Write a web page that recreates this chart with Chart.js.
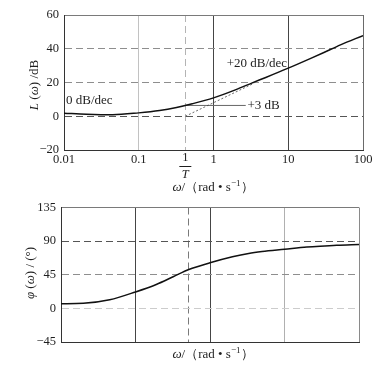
<!DOCTYPE html>
<html>
<head>
<meta charset="utf-8">
<script src="https://cdn.jsdelivr.net/npm/chart.js@4.4.1/dist/chart.umd.min.js"></script>
<style>
  html, body { margin: 0; padding: 0; background: #fff; }
  #wrap { position: relative; width: 386px; height: 369px; }
  #magBox { position: absolute; left: 0; top: 0; width: 386px; height: 195px; }
  #phaseBox { position: absolute; left: 0; top: 195px; width: 386px; height: 174px; }
</style>
</head>
<body>
<div id="wrap">
  <div id="magBox"><canvas id="magChart"></canvas></div>
  <div id="phaseBox"><canvas id="phaseChart"></canvas></div>
</div>
<script>
// ===== DATA =====
const freqs = [0.01, 0.02, 0.045, 0.1, 0.19, 0.32, 0.52, 1, 2, 3.3, 5, 10, 20, 30, 50, 100];
const magDb = [1.8, 1.2, 0.9, 2.0, 3.4, 5.2, 7.4, 10.9, 15.8, 19.8, 23, 28.5, 34.3, 37.8, 42.3, 47.8];
const phaseDeg = [6.3, 6.8, 11.5, 22, 32, 42.3, 52, 61, 69, 73.5, 76, 79, 82, 83.3, 84.6, 85.6];

const asymptoteFreq = [0.42, 3.5];
const asymptoteDb = [0, 19.6];
const leaderFreq = [0.42, 2.7];
const leaderDb = [6.4, 6.4];

const magXTicks = [0.01, 0.1, 0.42, 1, 10, 100];
const magXLabels = ["0.01", "0.1", "", "1", "10", "100"];
const magYTicks = [-20, 0, 20, 40, 60];
const phaseXTicks = [0.01, 0.1, 0.52, 1, 10, 100];
const phaseYTicks = [-45, 0, 45, 90, 135];

const SERIF = "'Liberation Serif', 'Times New Roman', serif";
const INK = "#1e1e1e";

// ===== HELPERS =====
function toPoints(xs, ys) {
  return xs.map((x, i) => ({ x: x, y: ys[i] }));
}

function fmtTick(v) {
  return v < 0 ? "\u2212" + Math.abs(v) : String(v);
}

// draw a string made of runs (italic / superscript parts)
function drawRuns(ctx, runs, x, y, size, align, angle) {
  ctx.save();
  ctx.translate(x, y);
  if (angle) ctx.rotate(angle);
  ctx.textBaseline = "middle";
  ctx.textAlign = "left";
  ctx.fillStyle = INK;
  const fontOf = (r) => (r.italic ? "italic " : "") + (r.sup ? size * 0.7 : size) + "px " + SERIF;
  let total = 0;
  runs.forEach((r) => {
    ctx.font = fontOf(r);
    r.w = ctx.measureText(r.t).width;
    total += r.w;
  });
  let cx = align === "left" ? 0 : -total / 2;
  runs.forEach((r) => {
    ctx.font = fontOf(r);
    ctx.fillText(r.t, cx, r.sup ? -size * 0.35 : 0);
    cx += r.w;
  });
  ctx.restore();
}

const xTitleRuns = () => [
  { t: "\u03c9", italic: true },
  { t: "/\uff08rad \u2022 s" },
  { t: "\u22121", sup: true },
  { t: "\uff09" },
];

function gridStyle(map, fallback) {
  return {
    color: (c) => (c.tick && map[c.tick.value] ? map[c.tick.value][0] : fallback),
    dash: (c) => (c.tick && map[c.tick.value] && map[c.tick.value][1] ? [7, 4] : []),
  };
}

// ===== MAGNITUDE CHART =====
const magXGrid = gridStyle({ 0.01: ["#333"], 0.1: ["#c2c2c2"], 0.42: ["#b4b4b4", 1], 1: ["#454545"], 10: ["#454545"], 100: ["#6a6a6a"] }, "#999");
const magYGrid = gridStyle({ "-20": ["#333"], 0: ["#555", 1], 20: ["#8e8e8e", 1], 40: ["#8e8e8e", 1], 60: ["#7a7a7a"] }, "#999");

const magLabels = {
  id: "magLabels",
  afterDatasetsDraw(chart) {
    const { ctx, chartArea, scales } = chart;
    const xs = scales.x, ys = scales.y;
    drawRuns(ctx, [{ t: "0 dB/dec" }], chartArea.left + 2, ys.getPixelForValue(9), 13, "left");
    drawRuns(ctx, [{ t: "+20 dB/dec" }], xs.getPixelForValue(1.5), ys.getPixelForValue(31.5), 13, "left");
    drawRuns(ctx, [{ t: "+3 dB" }], xs.getPixelForValue(2.85), ys.getPixelForValue(6.4), 13, "left");

    // 1/T tick label
    const cx = xs.getPixelForValue(magXTicks[2]);
    const b = chartArea.bottom;
    drawRuns(ctx, [{ t: "1" }], cx, b + 8, 12.5, "center");
    ctx.save();
    ctx.strokeStyle = INK;
    ctx.lineWidth = 1;
    ctx.beginPath();
    ctx.moveTo(cx - 6, b + 16.5);
    ctx.lineTo(cx + 6, b + 16.5);
    ctx.stroke();
    ctx.restore();
    drawRuns(ctx, [{ t: "T", italic: true }], cx, b + 25, 12.5, "center");

    drawRuns(ctx, xTitleRuns(), 213, 188, 13, "center");
    drawRuns(ctx, [{ t: "L", italic: true }, { t: " (" }, { t: "\u03c9", italic: true }, { t: ") /dB" }],
      35, 85, 13, "center", -Math.PI / 2);
  },
};

new Chart(document.getElementById("magChart"), {
  type: "line",
  data: {
    datasets: [
      {
        data: toPoints(freqs, magDb),
        borderColor: "#111",
        borderWidth: 1.5,
        pointRadius: 0,
        cubicInterpolationMode: "monotone",
      },
      {
        data: toPoints(asymptoteFreq, asymptoteDb),
        borderColor: "#444",
        borderWidth: 0.8,
        borderDash: [2, 2],
        pointRadius: 0,
      },
      {
        data: toPoints(leaderFreq, leaderDb),
        borderColor: "#666",
        borderWidth: 1,
        pointRadius: 0,
      },
    ],
  },
  options: {
    responsive: true,
    maintainAspectRatio: false,
    animation: false,
    layout: { padding: { left: 0, right: 23, top: 15, bottom: 0 } },
    plugins: { legend: { display: false }, tooltip: { enabled: false } },
    scales: {
      x: {
        type: "logarithmic",
        min: 0.01,
        max: 100,
        afterBuildTicks: (s) => { s.ticks = magXTicks.map((v) => ({ value: v })); },
        afterFit: (s) => { s.height = 45; },
        grid: { drawTicks: false, color: magXGrid.color, lineWidth: 1 },
        border: { color: "#333", dash: magXGrid.dash },
        ticks: {
          autoSkip: false,
          maxRotation: 0,
          padding: 2,
          color: INK,
          font: { family: SERIF, size: 12.5 },
          callback: (v, i) => magXLabels[i],
        },
      },
      y: {
        min: -20,
        max: 60,
        afterBuildTicks: (s) => { s.ticks = magYTicks.map((v) => ({ value: v })); },
        afterFit: (s) => { s.width = 64; },
        grid: { drawTicks: false, color: magYGrid.color, lineWidth: 1 },
        border: { color: "#333", dash: magYGrid.dash },
        ticks: {
          padding: 5,
          color: INK,
          font: { family: SERIF, size: 12.5 },
          callback: (v) => fmtTick(v),
        },
      },
    },
  },
  plugins: [magLabels],
});

// ===== PHASE CHART =====
const phXGrid = gridStyle({ 0.01: ["#333"], 0.1: ["#454545"], 0.52: ["#7a7a7a", 1], 1: ["#454545"], 10: ["#b0b0b0"], 100: ["#8a8a8a"] }, "#999");
const phYGrid = gridStyle({ "-45": ["#333"], 0: ["#cccccc", 1], 45: ["#8e8e8e", 1], 90: ["#555", 1], 135: ["#7a7a7a"] }, "#999");

const phaseLabels = {
  id: "phaseLabels",
  afterDatasetsDraw(chart) {
    const { ctx } = chart;
    drawRuns(ctx, xTitleRuns(), 213, 160, 13, "center");
    drawRuns(ctx, [{ t: "\u03c6", italic: true }, { t: " (" }, { t: "\u03c9", italic: true }, { t: ") / (\u00b0)" }],
      31, 78, 13, "center", -Math.PI / 2);
  },
};

new Chart(document.getElementById("phaseChart"), {
  type: "line",
  data: {
    datasets: [
      {
        data: toPoints(freqs, phaseDeg),
        borderColor: "#111",
        borderWidth: 1.5,
        pointRadius: 0,
        cubicInterpolationMode: "monotone",
      },
    ],
  },
  options: {
    responsive: true,
    maintainAspectRatio: false,
    animation: false,
    layout: { padding: { left: 0, right: 27, top: 10, bottom: 0 } },
    plugins: { legend: { display: false }, tooltip: { enabled: false } },
    scales: {
      x: {
        type: "logarithmic",
        min: 0.01,
        max: 100,
        afterBuildTicks: (s) => { s.ticks = phaseXTicks.map((v) => ({ value: v })); },
        afterFit: (s) => { s.height = 27; },
        grid: { drawTicks: false, color: phXGrid.color, lineWidth: 1 },
        border: { color: "#333", dash: phXGrid.dash },
        ticks: { display: false },
      },
      y: {
        min: -45,
        max: 135,
        afterBuildTicks: (s) => { s.ticks = phaseYTicks.map((v) => ({ value: v })); },
        afterFit: (s) => { s.width = 61; },
        grid: { drawTicks: false, color: phYGrid.color, lineWidth: 1 },
        border: { color: "#333", dash: phYGrid.dash },
        ticks: {
          padding: 5,
          color: INK,
          font: { family: SERIF, size: 12.5 },
          callback: (v) => fmtTick(v),
        },
      },
    },
  },
  plugins: [phaseLabels],
});
</script>
</body>
</html>
